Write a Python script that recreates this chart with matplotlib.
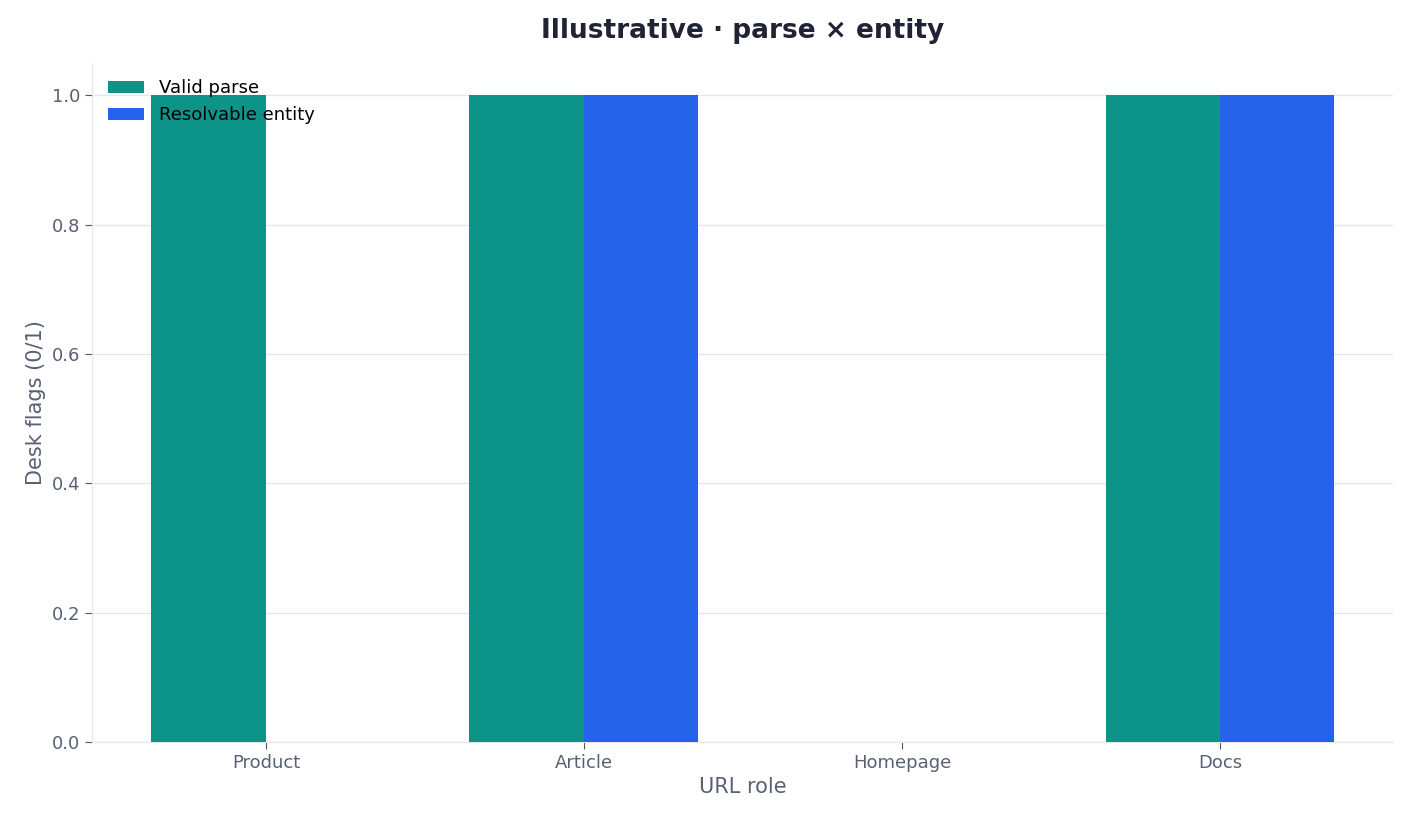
import matplotlib
matplotlib.use("Agg")
import matplotlib.pyplot as plt
import numpy as np

categories = ["Product", "Article", "Homepage", "Docs"]
valid_parse = [1, 1, 0, 1]
resolvable_entity = [0, 1, 0, 1]

fig = plt.figure(figsize=(14.1, 8.21), dpi=100)
ax = fig.add_axes([92/1410, 1-742/821, (1393-92)/1410, (742-63)/821])
x = np.arange(len(categories))
w = 0.36
ax.bar(x - w/2, valid_parse, w, color="#0d9488", label="Valid parse", zorder=3)
ax.bar(x + w/2, resolvable_entity, w, color="#2563eb", label="Resolvable entity", zorder=3)
ax.set_xlim(-0.547, 3.544)
ax.set_ylim(0, 1.05)
ax.set_xticks(x)
ax.set_xticklabels(categories)
ax.set_yticks([0, 0.2, 0.4, 0.6, 0.8, 1.0])
ax.yaxis.grid(True, color="#e5e7eb", linewidth=1, zorder=0)
for s in ["top", "right"]:
    ax.spines[s].set_visible(False)
for s in ["left", "bottom"]:
    ax.spines[s].set_color("#e5e7eb")
ax.tick_params(colors="#4b5563", labelsize=13, length=5)
ax.tick_params(axis="x", colors="#4b5563", labelcolor="#4b5563")
for lab in ax.get_xticklabels() + ax.get_yticklabels():
    lab.set_color("#586174")
ax.set_xlabel("URL role", fontsize=15, color="#586174")
ax.set_ylabel("Desk flags (0/1)", fontsize=15, color="#586174")
ax.set_title("Illustrative · parse × entity", fontsize=19, fontweight="bold", color="#1f2333", pad=18)
ax.legend(loc="upper left", frameon=False, fontsize=13, bbox_to_anchor=(0.0, 1.0))
fig.savefig("out.png", dpi=100)
